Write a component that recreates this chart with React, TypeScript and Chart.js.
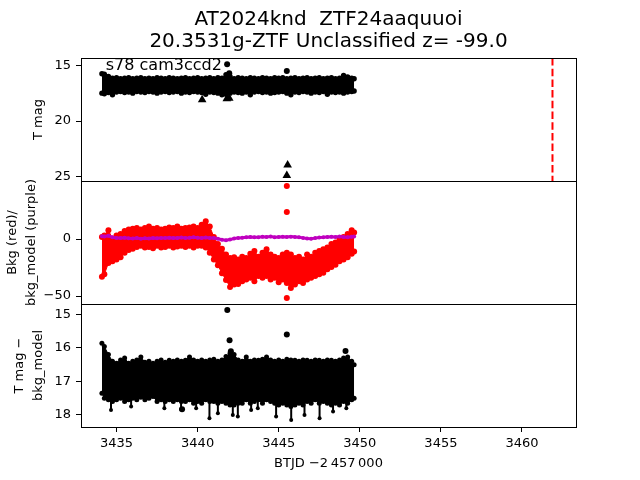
import React, { useEffect, useRef } from 'react';
import { Chart, registerables } from 'chart.js';

Chart.register(...registerables);
Chart.defaults.font.family = "'DejaVu Sans', sans-serif";
Chart.defaults.color = '#000';

// ---------- data ----------
const titleLines = ['AT2024knd  ZTF24aaquuoi', '20.3531g-ZTF Unclassified z= -99.0'];
const panelNote = 's78 cam3ccd2';

const times = [
  3434.1, 3434.25, 3434.5, 3434.75, 3435, 3435.25, 3435.5, 3435.75, 3436, 3436.25,
  3436.5, 3436.75, 3437, 3437.25, 3437.5, 3437.75, 3438, 3438.25, 3438.5, 3438.75,
  3439, 3439.25, 3439.5, 3439.75, 3440, 3440.25, 3440.5, 3440.75, 3441, 3441.25,
  3441.5, 3441.75, 3442, 3442.25, 3442.5, 3442.75, 3443, 3443.25, 3443.5, 3443.75,
  3444, 3444.25, 3444.5, 3444.75, 3445, 3445.25, 3445.5, 3445.75, 3446, 3446.25,
  3446.5, 3446.75, 3447, 3447.25, 3447.5, 3447.75, 3448, 3448.25, 3448.5, 3448.75,
  3449, 3449.25, 3449.5, 3449.65,
];

// top panel: T mag band (bright edge / faint edge)
const topHi = [
  15.75, 15.8, 16.0, 16.15, 16.1, 16.2, 16.15, 16.1, 16.2, 16.15,
  16.1, 16.2, 16.15, 16.2, 16.1, 16.15, 16.2, 16.1, 16.15, 16.2,
  16.15, 16.1, 16.2, 16.15, 16.1, 16.2, 16.15, 16.1, 16.2, 16.1,
  16.15, 15.85, 16.0, 16.2, 16.1, 16.15, 16.2, 16.1, 16.15, 16.2,
  16.1, 16.15, 16.2, 16.1, 16.15, 16.1, 16.2, 16.15, 16.1, 16.2,
  16.15, 16.1, 16.2, 16.15, 16.1, 16.2, 16.15, 16.1, 16.2, 16.15,
  15.9, 16.05, 16.15, 16.2,
];
const topLo = [
  17.5, 17.55, 17.45, 17.65, 17.4, 17.35, 17.45, 17.4, 17.5, 17.35,
  17.4, 17.45, 17.35, 17.4, 17.5, 17.4, 17.35, 17.45, 17.4, 17.35,
  17.5, 17.4, 17.45, 17.35, 17.4, 17.45, 17.6, 17.4, 17.45, 17.5,
  17.65, 17.6, 17.5, 17.4, 17.45, 17.5, 17.4, 17.65, 17.4, 17.35,
  17.45, 17.4, 17.5, 17.45, 17.4, 17.35, 17.5, 17.65, 17.4, 17.45,
  17.35, 17.4, 17.5, 17.4, 17.45, 17.35, 17.6, 17.4, 17.45, 17.4,
  17.5, 17.4, 17.35, 17.3,
];
const topDotT = [3441.82, 3441.95, 3445.5];
const topDotMag = [14.9, 15.7, 15.5];
const limitT = [3440.28, 3441.8, 3441.95, 3445.55, 3445.5];
const limitMag = [18.1, 18.0, 17.95, 23.95, 24.9];
const discoveryT = 3461.88;

// middle panel: background (red) and background model (purple)
const bkgHi = [
  1.8, 3.2, 7.6, 0.3, 3.2, 4.4, 7.0, 8.3, 9.1, 9.6,
  8.3, 9.6, 11, 9, 9.6, 8.3, 9, 10, 9.6, 11,
  9, 9.6, 10, 11, 9.6, 12.6, 15.5, 11, 1.8, -4.4,
  -8.5, -13.5, -16.7, -16, -18, -15.5, -16.7, -13, -10.5, -15.5,
  -12, -9, -13.5, -15.5, -16.7, -13.5, -12, -13.5, -16.7, -15.5,
  -18, -13.5, -15.5, -12, -10.5, -9, -7.5, -4.4, -3, 0.3,
  1.8, 4.4, 7.6, 5.8,
];
const bkgLo = [
  -33, -31, -21, -19.6, -18, -16, -12, -9.6, -8.5, -7,
  -6, -7.5, -7, -8, -6, -7.5, -7, -6, -7.5, -6.5,
  -6, -7, -6, -7.5, -6, -6, -7.5, -12, -18, -23,
  -30, -36, -42, -40, -39.5, -37, -35.5, -34, -37, -32.5,
  -34, -32.5, -35.5, -34, -38, -35.5, -38.5, -43, -40, -37,
  -38.5, -35.5, -34, -32.5, -31, -29.5, -26.5, -24.5, -22.5, -19.6,
  -18, -16, -13, -11,
];
const bkgModel = [
  2.5, 2.2, 2.8, 1.5, 1.0, 0.8, 1.2, 0.6, 0.5, 0.8,
  0.3, 0.6, 0.5, 0.9, 0.6, 1.0, 0.8, 1.2, 0.9, 1.0,
  1.3, 1.0, 1.2, 1.5, 1.2, 1.0, 1.3, 1.0, 0.8, 0.2,
  -0.6, -1.0, -0.5, 0.5, 1.0, 1.2, 1.5, 1.8, 1.6, 1.5,
  2.0, 1.8, 2.2, 1.6, 1.8, 2.0, 1.7, 2.1, 1.8, 1.5,
  1.0, 0.4, 0.3, 0.8, 1.3, 1.5, 1.8, 2.0, 1.7, 2.2,
  1.8, 1.5, 2.0, 2.3,
];
const bkgDotT = [3445.5, 3445.5, 3445.5];
const bkgDotVal = [46.5, 23.7, -51.8];

// bottom panel: T mag - bkg_model
const diffHi = [
  15.86, 15.96, 16.2, 16.4, 16.46, 16.36, 16.3, 16.46, 16.4, 16.36,
  16.27, 16.43, 16.4, 16.46, 16.4, 16.36, 16.43, 16.37, 16.4, 16.36,
  16.4, 16.37, 16.27, 16.36, 16.4, 16.36, 16.4, 16.36, 16.34, 16.4,
  16.36, 16.26, 16.16, 16.2, 16.36, 16.4, 16.27, 16.4, 16.36, 16.37,
  16.34, 16.27, 16.36, 16.4, 16.36, 16.4, 16.34, 16.36, 16.37, 16.4,
  16.36, 16.37, 16.4, 16.36, 16.37, 16.4, 16.36, 16.37, 16.4, 16.36,
  16.3, 16.27, 16.4, 16.5,
];
const diffLo = [
  17.35, 17.5, 17.55, 17.6, 17.55, 17.5, 17.6, 17.55, 17.5, 17.55,
  17.47, 17.55, 17.5, 17.45, 17.6, 17.55, 17.6, 17.55, 17.6, 17.55,
  17.6, 17.6, 17.55, 17.65, 17.6, 17.65, 17.55, 17.6, 17.6, 17.65,
  17.6, 17.65, 17.7, 17.7, 17.65, 17.65, 17.55, 17.65, 17.6, 17.55,
  17.65, 17.55, 17.6, 17.65, 17.7, 17.65, 17.7, 17.75, 17.7, 17.65,
  17.7, 17.6, 17.65, 17.55, 17.65, 17.6, 17.65, 17.7, 17.65, 17.7,
  17.6, 17.65, 17.55, 17.5,
];
const dipBase = 17.4;
const dipT = [3434.66, 3435.9, 3437.95, 3438.98, 3439.91, 3440.73, 3441.25, 3442.17, 3442.48, 3443.3, 3443.71, 3444.84, 3445.77, 3446.59, 3447.52, 3448.35, 3449.17];
const dipMag = [17.85, 17.75, 17.8, 17.83, 17.8, 18.1, 17.95, 18.0, 18.05, 17.85, 17.8, 18.05, 18.15, 18.0, 18.1, 17.9, 17.8];
const diffDotT = [3441.83, 3441.97, 3442.05, 3445.5, 3449.12, 3439.04];
const diffDotMag = [14.87, 15.77, 16.1, 15.6, 16.09, 17.83];

// axes
const xTicks = [3435, 3440, 3445, 3450, 3455, 3460];
const topTicks = [15, 20, 25];
const midTicks = [0, -50];
const botTicks = [15, 16, 17, 18];
const xRange = [3432.81, 3463.33];
const topRange = [14.34, 25.39];
const midRange = [-57, 50.9];
const botRange = [14.69, 18.36];
const xLabel = 'BTJD \u22122\u2009457\u2009000';
const topLabel = 'T mag';
const midLabel = ['Bkg (red)/', 'bkg_model (purple)'];
const botLabel = ['T mag \u2212', 'bkg_model'];

// ---------- helpers ----------
const pts = (xs: number[], ys: number[]) => {
  const n = Math.min(xs.length, ys.length);
  const out: { x: number; y: number }[] = [];
  for (let i = 0; i < n; i++) out.push({ x: xs[i], y: ys[i] });
  return out;
};
const fmt = (v: number) => (v < 0 ? '\u2212' + Math.abs(v) : String(v));

const yScale = (
  range: number[], ticks: number[], reverse: boolean, weight: number,
  label: string | string[], titlePad: number
) => ({
  type: 'linear',
  position: 'left',
  stack: 'panels',
  stackWeight: 1,
  weight,
  reverse,
  min: range[0],
  max: range[1],
  afterBuildTicks: (s: any) => { s.ticks = ticks.map((v) => ({ value: v })); },
  afterFit: (s: any) => { s.width = 81; },
  ticks: { color: '#000', font: { size: 13 }, padding: 5, callback: (v: any) => fmt(Number(v)) },
  grid: { display: true, drawOnChartArea: false, tickLength: 5, color: '#000', tickWidth: 1 },
  border: { display: false },
  title: {
    display: true, text: label, color: '#000',
    font: { size: 13, lineHeight: 1.4 }, padding: { top: titlePad, bottom: 0 },
  },
});

const decorPlugin = {
  id: 'decor',
  afterDraw(chart: any) {
    const { ctx, chartArea } = chart;
    const w = chartArea.right - chartArea.left;
    ctx.save();
    ctx.strokeStyle = '#000';
    ctx.lineWidth = 1;
    for (const id of ['yTop', 'yMid', 'yBot']) {
      const s = chart.scales[id];
      ctx.strokeRect(Math.round(chartArea.left) + 0.5, Math.round(s.top) + 0.5, Math.round(w), Math.round(s.bottom - s.top));
    }
    const st = chart.scales.yTop;
    ctx.fillStyle = '#000';
    ctx.font = "16px 'DejaVu Sans', sans-serif";
    ctx.textAlign = 'left';
    ctx.textBaseline = 'alphabetic';
    ctx.fillText(panelNote, chartArea.left + 0.05 * w, st.bottom - 0.9 * (st.bottom - st.top));
    ctx.font = "20px 'DejaVu Sans', sans-serif";
    ctx.textAlign = 'center';
    ctx.textBaseline = 'middle';
    const cx = (chartArea.left + chartArea.right) / 2;
    titleLines.forEach((t, i) => ctx.fillText(t, cx, 20 + i * 22));
    ctx.restore();
  },
};

export default function App() {
  const ref = useRef<HTMLCanvasElement>(null);
  useEffect(() => {
    if (!ref.current) return;
    const dipData: any[] = [];
    dipT.forEach((t, i) => {
      dipData.push({ x: t, y: dipBase }, { x: t, y: dipMag[i] }, { x: t, y: null });
    });
    const band = (hi: number[], lo: number[], color: string, r: number, yAxisID: string) => [
      {
        type: 'line', data: pts(times, hi), yAxisID, borderColor: color, backgroundColor: color,
        borderWidth: 1, pointRadius: r, pointBackgroundColor: color, pointBorderWidth: 0,
        fill: '+1', order: 5, tension: 0,
      },
      {
        type: 'line', data: pts(times, lo), yAxisID, borderColor: color, backgroundColor: color,
        borderWidth: 1, pointRadius: r, pointBackgroundColor: color, pointBorderWidth: 0,
        fill: false, order: 5, tension: 0,
      },
    ];
    const chart = new Chart(ref.current, {
      type: 'scatter',
      data: {
        datasets: [
          ...band(topHi, topLo, '#000', 2.7, 'yTop'),
          ...band(bkgHi, bkgLo, '#ff0000', 3, 'yMid'),
          ...band(diffHi, diffLo, '#000', 2.5, 'yBot'),
          {
            type: 'scatter', data: pts(topDotT, topDotMag), yAxisID: 'yTop',
            backgroundColor: '#000', borderWidth: 0, pointRadius: 3, order: 1,
          },
          {
            type: 'scatter', data: pts(limitT, limitMag), yAxisID: 'yTop',
            backgroundColor: '#000', borderColor: '#000', borderWidth: 0, pointStyle: 'triangle', pointRadius: 5, order: 1,
          },
          {
            type: 'line', data: [{ x: discoveryT, y: topRange[0] }, { x: discoveryT, y: topRange[1] }], yAxisID: 'yTop',
            borderColor: '#ff0000', borderWidth: 2, borderDash: [7.5, 3.2], pointRadius: 0, fill: false, order: 0,
          },
          {
            type: 'scatter', data: pts(bkgDotT, bkgDotVal), yAxisID: 'yMid',
            backgroundColor: '#ff0000', borderWidth: 0, pointRadius: 3, order: 1,
          },
          {
            type: 'line', data: pts(times, bkgModel), yAxisID: 'yMid',
            borderColor: '#bf00bf', backgroundColor: '#bf00bf', borderWidth: 3, pointRadius: 2,
            pointBorderWidth: 0, fill: false, order: 0, tension: 0,
          },
          {
            type: 'line', data: dipData, yAxisID: 'yBot', borderColor: '#000', borderWidth: 2,
            pointRadius: 0, fill: false, spanGaps: false, order: 2,
          },
          {
            type: 'scatter', data: pts(dipT, dipMag), yAxisID: 'yBot',
            backgroundColor: '#000', borderWidth: 0, pointRadius: 2, order: 1,
          },
          {
            type: 'scatter', data: pts(diffDotT, diffDotMag), yAxisID: 'yBot',
            backgroundColor: '#000', borderWidth: 0, pointRadius: 3, order: 1,
          },
        ] as any,
      },
      options: {
        responsive: false,
        animation: false,
        devicePixelRatio: 1,
        events: [],
        layout: { padding: { top: 58, right: 64, left: 0, bottom: 0 } },
        plugins: { legend: { display: false }, tooltip: { enabled: false }, title: { display: false } },
        scales: {
          x: {
            type: 'linear', position: 'bottom', min: xRange[0], max: xRange[1],
            afterBuildTicks: (s: any) => { s.ticks = xTicks.map((v) => ({ value: v })); },
            afterFit: (s: any) => { s.height = 53; },
            ticks: { color: '#000', font: { size: 13 }, padding: 4, maxRotation: 0, autoSkip: false, callback: (v: any) => String(v) },
            grid: { display: true, drawOnChartArea: false, tickLength: 5, color: '#000' },
            border: { display: false },
            title: { display: true, text: xLabel, color: '#000', font: { size: 13 }, padding: { top: 0, bottom: 9 } },
          },
          yTop: yScale(topRange, topTicks, true, 3, topLabel, 30),
          yMid: yScale(midRange, midTicks, false, 2, midLabel, 4),
          yBot: yScale(botRange, botTicks, true, 1, botLabel, 11),
        } as any,
      },
      plugins: [decorPlugin],
    } as any);
    return () => chart.destroy();
  }, []);
  return (
    <div style={{ position: 'absolute', left: 0, top: 0, width: 640, height: 480, background: '#fff' }}>
      <canvas ref={ref} width={640} height={480} style={{ width: 640, height: 480, display: 'block' }} />
    </div>
  );
}
